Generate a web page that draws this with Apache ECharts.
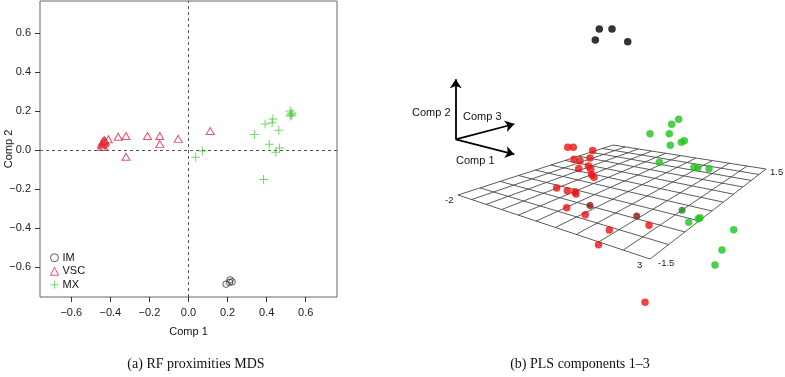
<!DOCTYPE html>
<html>
<head>
<meta charset="utf-8">
<script src="https://cdn.jsdelivr.net/npm/echarts@6.0.0/dist/echarts.min.js"></script>
<style>
html,body{margin:0;padding:0;background:#fff;}
#main{width:785px;height:377px;}
</style>
</head>
<body>
<div id="main"></div>
<script>
// (a) RF proximities MDS  -- [Comp 1, Comp 2]
var imPoints = [[0.210,-0.680],[0.192,-0.689],[0.213,-0.667],[0.223,-0.677]];
var vscPoints = [
    [-0.445,0.030],[-0.440,0.040],[-0.435,0.046],[-0.430,0.035],[-0.425,0.042],
    [-0.440,0.024],[-0.430,0.050],[-0.445,0.016],[-0.432,0.016],[-0.410,0.055],
    [-0.360,0.068],[-0.320,0.072],[-0.320,-0.035],[-0.210,0.072],[-0.147,0.072],
    [-0.147,0.030],[-0.053,0.057],[0.111,0.097]
];
var mxPoints = [
    [0.037,-0.037],[0.071,-0.005],[0.337,0.080],[0.392,0.133],[0.432,0.159],
    [0.428,0.140],[0.462,0.101],[0.413,0.029],[0.447,-0.012],[0.466,0.010],
    [0.384,-0.152],[0.520,0.200],[0.525,0.185],[0.530,0.190],[0.520,0.175],[0.528,0.178]
];
var xTicks = [-0.6,-0.4,-0.2,0.0,0.2,0.4,0.6];
var yTicks = [-0.6,-0.4,-0.2,0.0,0.2,0.4,0.6];

// (b) PLS components 1-3 -- position as projected in the 3D view
var blackDots = [[199.3,29],[212,29],[195.3,40],[227.7,41.7]];
var redDots = [
    [167.7,147.3],[173.3,147.3],[192.7,150.5],[174,159.3],[180,160.7],[190,158],
    [178.7,168.5],[188.3,166],[190.7,169.3],[191.7,174.7],[194,177.3],[156.7,188],
    [167.3,190.7],[175,191.7],[176,194],[166.7,207.7],[185.3,214.7],[209.3,230],
    [249,225.3],[198.5,244.7],[245,302.3]
];
var darkRedDots = [[236.7,216],[190,205.5]];
var greenDots = [
    [278.7,119.3],[271.7,124.3],[250,133.7],[269.3,133.7],[281.3,142.3],[284.3,140.7],
    [270.3,145.3],[259.3,162.3],[294,167.3],[297.7,168],[309,168.7],[288.7,222.3],
    [298.3,218.7],[300,217.7],[333.7,229.7],[322,250],[315,265]
];
var darkGreenDots = [[282,210.3]];
// floor grid: Comp 1 from -2 to 3, Comp 3 from -1.5 to 1.5
var planeC1 = [-2,-1.5,-1,-0.5,0,0.5,1,1.5,2,2.5,3];
var planeC3 = [-1.5,-1.2,-0.9,-0.6,-0.3,0,0.3,0.6,0.9,1.2,1.5];

// view of the floor: corners (c1=-2,c3=-1.5) (3,-1.5) (3,1.5) (-2,1.5)
var floorQuad = [[58,195],[250,259],[366,169],[213,145]];
var axisOrigin = [55.7,139.3];
var axisEnds = {c1:[114.3,154.3], c2:[55.7,79.3], c3:[114.3,124]};

function sq2quad(q){
    var x0=q[0][0],y0=q[0][1],x1=q[1][0],y1=q[1][1],x2=q[2][0],y2=q[2][1],x3=q[3][0],y3=q[3][1];
    var dx1=x1-x2,dx2=x3-x2,dx3=x0-x1+x2-x3;
    var dy1=y1-y2,dy2=y3-y2,dy3=y0-y1+y2-y3;
    var den=dx1*dy2-dx2*dy1;
    var g=(dx3*dy2-dx2*dy3)/den,h=(dx1*dy3-dx3*dy1)/den;
    var a=x1-x0+g*x1,b=x3-x0+h*x3,c=x0,d=y1-y0+g*y1,e=y3-y0+h*y3,f=y0;
    return function(u,v){
        var w=g*u+h*v+1;
        return [(a*u+b*v+c)/w,(d*u+e*v+f)/w];
    };
}
var proj = sq2quad(floorQuad);

var gridLines = [];
planeC1.forEach(function(v){ gridLines.push([0,v]); });
planeC3.forEach(function(v){ gridLines.push([1,v]); });

function fmt(v){
    var s = Math.abs(v).toFixed(1);
    return (v < -1e-9 ? '\u2212' : '') + s;
}

var font = 'Liberation Sans, Arial, sans-serif';
var crossPath = 'path://M4.45,0H5.55V4.45H10V5.55H5.55V10H4.45V5.55H0V4.45H4.45Z';

var myChart = echarts.init(document.getElementById('main'), null, {renderer:'canvas'});
var option = {
    backgroundColor:'#fff',
    animation:false,
    grid:[
        {left:40,top:1,width:297,height:296,show:true,borderColor:'#666',borderWidth:1,
            backgroundColor:'transparent',containLabel:false,outerBoundsMode:'none'},
        {left:400,top:0,width:385,height:377,show:false,containLabel:false,outerBoundsMode:'none'}
    ],
    xAxis:[
        {
            type:'value',gridIndex:0,min:-0.76,max:0.76,
            name:'Comp 1',nameLocation:'middle',nameGap:29,
            nameTextStyle:{fontFamily:font,fontSize:11,color:'#111'},
            splitLine:{show:false},
            axisLine:{show:false,onZero:false},
            axisTick:{show:true,length:5,customValues:xTicks,lineStyle:{color:'#333',width:1}},
            axisLabel:{customValues:xTicks,formatter:fmt,margin:10,fontFamily:font,fontSize:11,color:'#222'}
        },
        {type:'value',gridIndex:1,min:0,max:385,show:false}
    ],
    yAxis:[
        {
            type:'value',gridIndex:0,min:-0.755,max:0.765,
            name:'Comp 2',nameLocation:'middle',nameGap:26,nameRotate:90,nameMoveOverlap:false,
            nameTextStyle:{fontFamily:font,fontSize:11,color:'#111'},
            splitLine:{show:false},
            axisLine:{show:false,onZero:false},
            axisTick:{show:true,length:5,customValues:yTicks,lineStyle:{color:'#333',width:1}},
            axisLabel:{customValues:yTicks,formatter:fmt,margin:9,fontFamily:font,fontSize:11,color:'#222'}
        },
        {type:'value',gridIndex:1,min:0,max:377,inverse:true,show:false}
    ],
    legend:{
        orient:'vertical',left:45,top:246,
        itemWidth:8,itemHeight:8,itemGap:0,
        itemStyle:{borderWidth:1},
        textStyle:{fontFamily:font,fontSize:11,color:'#111',lineHeight:13.5,padding:[0,0,0,-1]},
        data:['IM','VSC','MX']
    },
    series:[
        {
            name:'IM',type:'scatter',xAxisIndex:0,yAxisIndex:0,
            symbol:'circle',symbolSize:6.5,
            itemStyle:{color:'rgba(0,0,0,0)',borderColor:'#333',borderWidth:1},
            data:imPoints,
            markLine:{
                silent:true,symbol:'none',label:{show:false},
                lineStyle:{type:[3,3],color:'#555',width:1},
                data:[{xAxis:0},{yAxis:0}]
            }
        },
        {
            name:'VSC',type:'scatter',xAxisIndex:0,yAxisIndex:0,
            symbol:'triangle',symbolSize:[8,7],
            itemStyle:{color:'rgba(0,0,0,0)',borderColor:'#e3263a',borderWidth:1},
            data:vscPoints
        },
        {
            name:'MX',type:'scatter',xAxisIndex:0,yAxisIndex:0,
            symbol:crossPath,symbolSize:9,
            itemStyle:{color:'#4dcc3e'},
            data:mxPoints
        },
        // floor grid of the 3D view
        {
            type:'custom',xAxisIndex:1,yAxisIndex:1,silent:true,z:1,
            data:gridLines,
            renderItem:function(params,api){
                var kind=api.value(0),v=api.value(1),p1,p2;
                if(kind===0){
                    var u=(v-planeC1[0])/(planeC1[planeC1.length-1]-planeC1[0]);
                    p1=proj(u,0);p2=proj(u,1);
                }else{
                    var w=(v-planeC3[0])/(planeC3[planeC3.length-1]-planeC3[0]);
                    p1=proj(0,w);p2=proj(1,w);
                }
                var a=api.coord(p1),b=api.coord(p2);
                return {type:'line',shape:{x1:a[0],y1:a[1],x2:b[0],y2:b[1]},
                    style:{stroke:'#4a4a4a',lineWidth:0.9}};
            }
        },
        // orientation arrows
        {
            type:'lines',coordinateSystem:'cartesian2d',xAxisIndex:1,yAxisIndex:1,silent:true,z:3,
            symbol:['none','arrow'],symbolSize:[0,9],
            lineStyle:{color:'#000',width:1.8,opacity:1},
            data:[
                {coords:[axisOrigin,axisEnds.c1]},
                {coords:[axisOrigin,axisEnds.c2]},
                {coords:[axisOrigin,axisEnds.c3]}
            ]
        },
        {type:'scatter',xAxisIndex:1,yAxisIndex:1,symbolSize:7,z:4,itemStyle:{color:'#8e1414'},data:darkRedDots},
        {type:'scatter',xAxisIndex:1,yAxisIndex:1,symbolSize:7,z:4,itemStyle:{color:'#1a8a1a'},data:darkGreenDots},
        {type:'scatter',xAxisIndex:1,yAxisIndex:1,symbolSize:7.5,z:5,itemStyle:{color:'#ee1111'},data:redDots},
        {type:'scatter',xAxisIndex:1,yAxisIndex:1,symbolSize:7.5,z:5,itemStyle:{color:'#1fc41f'},data:greenDots},
        {type:'scatter',xAxisIndex:1,yAxisIndex:1,symbolSize:7.5,z:5,itemStyle:{color:'#000'},data:blackDots}
    ],
    graphic:[
        {type:'text',left:412,top:107,style:{text:'Comp 2',font:'11px '+font,fill:'#111'}},
        {type:'text',left:463,top:111,style:{text:'Comp 3',font:'11px '+font,fill:'#111'}},
        {type:'text',left:456,top:155,style:{text:'Comp 1',font:'11px '+font,fill:'#111'}},
        {type:'text',left:445,top:195,style:{text:'-2',font:'9.5px '+font,fill:'#222'}},
        {type:'text',left:637,top:260,style:{text:'3',font:'9.5px '+font,fill:'#222'}},
        {type:'text',left:658,top:258,style:{text:'-1.5',font:'9.5px '+font,fill:'#222'}},
        {type:'text',left:770,top:167,style:{text:'1.5',font:'9.5px '+font,fill:'#222'}},
        {type:'text',x:196,y:364,style:{text:'(a) RF proximities MDS',font:'14px Liberation Serif, serif',fill:'#111',align:'center',verticalAlign:'middle'}},
        {type:'text',x:580,y:364,style:{text:'(b) PLS components 1\u20133',font:'14px Liberation Serif, serif',fill:'#111',align:'center',verticalAlign:'middle'}}
    ]
};
myChart.setOption(option);
</script>
</body>
</html>
